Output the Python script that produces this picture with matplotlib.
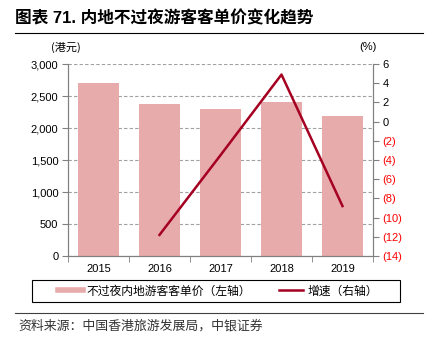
import matplotlib
matplotlib.use("Agg")
import matplotlib.pyplot as plt
from matplotlib.lines import Line2D
from matplotlib.patches import Rectangle
from matplotlib.ticker import FixedLocator, FuncFormatter
import numpy as np

plt.rcParams['font.family'] = ['Liberation Sans', 'Noto Sans CJK SC', 'DejaVu Sans']

years = ['2015', '2016', '2017', '2018', '2019']
spend = [2698, 2372, 2297, 2408, 2193]
growth_years = ['2016', '2017', '2018', '2019']
growth = [-11.8, -3.5, 4.9, -8.8]

title = '图表 71. 内地不过夜游客客单价变化趋势'
bar_label = '不过夜内地游客客单价（左轴）'
line_label = '增速（右轴）'
left_unit = '(港元)'
right_unit = '(%)'
source = '资料来源：中国香港旅游发展局，中银证券'

bar_color = '#E8ABAB'
line_color = '#A50021'
cjk = ['Noto Sans CJK SC', 'DejaVu Sans']

W, H = 427, 345
fig = plt.figure(figsize=(W / 100, H / 100), dpi=100)
ax = fig.add_axes([68 / W, 1 - 256 / H, (373 - 68) / W, (256 - 64) / H])
ax2 = ax.twinx()

x = np.arange(len(years))
ax.bar(x, spend, width=0.66, color=bar_color, zorder=2)
ax.set_xlim(-0.5, len(years) - 0.5)
ax.set_ylim(0, 3000)
ax.set_yticks(np.arange(0, 3001, 500))
ax.yaxis.set_major_formatter(FuncFormatter(lambda v, p: f'{int(v):,}'))
ax.set_xticks(x)
ax.set_xticklabels(years)
ax.xaxis.set_minor_locator(FixedLocator(np.arange(-0.5, len(years), 1.0)))
ax.tick_params(axis='x', which='major', length=0, labelsize=8, pad=6)
ax.tick_params(axis='x', which='minor', length=4, color='#808080', direction='out')
ax.tick_params(axis='y', length=4, color='#808080', labelsize=8, pad=3)
ax.grid(axis='y', linestyle=(0, (3, 2)), color='#A0A0A0', linewidth=0.8, zorder=0)
ax.set_axisbelow(True)

gx = [years.index(y) for y in growth_years]
ax2.plot(gx, growth, color=line_color, linewidth=1.8, zorder=3)
ax2.set_ylim(-14, 6)
ax2.set_yticks(np.arange(-14, 7, 2))
ax2.yaxis.set_major_formatter(FuncFormatter(lambda v, p: f'({int(-v)})' if v < 0 else f'{int(v)}'))
ax2.tick_params(axis='y', length=4, color='#808080', labelsize=8, pad=3)
for t, v in zip(ax2.get_yticklabels(), np.arange(-14, 7, 2)):
    t.set_color('#FF0000' if v < 0 else 'black')

for a in (ax, ax2):
    a.spines['top'].set_visible(False)
    for s in ('left', 'right', 'bottom'):
        a.spines[s].set_color('#808080')
        a.spines[s].set_linewidth(0.8)
ax.set_zorder(ax2.get_zorder() - 1)
ax2.patch.set_visible(False)
ax.patch.set_visible(True)

# texts
fig.text(15 / W, 1 - 18 / H, title, fontsize=12, fontweight='bold', family=['Liberation Sans', 'Noto Sans CJK SC'],
         va='center', ha='left')
fig.add_artist(Line2D([15 / W, 423 / W], [1 - 33 / H, 1 - 33 / H], color='black', linewidth=0.8))
fig.text(66 / W, 1 - 47 / H, left_unit, fontsize=8, family=cjk, va='center', ha='center')
fig.text(368 / W, 1 - 47 / H, right_unit, fontsize=8, va='center', ha='center')

# legend
fig.add_artist(Rectangle((32 / W, 1 - 302 / H), 368 / W, 22 / H, fill=False, edgecolor='black', linewidth=0.8,
                         transform=fig.transFigure))
handles = [Line2D([], [], color=bar_color, linewidth=4),
           Line2D([], [], color=line_color, linewidth=1.8)]
fig.legend(handles, [bar_label, line_label], loc='center', bbox_to_anchor=(218 / W, 1 - 291 / H),
           ncol=2, frameon=False, prop={'family': cjk, 'size': 8.5}, handlelength=2.1, handletextpad=0.35,
           columnspacing=2.3, borderaxespad=0)

fig.add_artist(Line2D([15 / W, 423 / W], [1 - 313 / H, 1 - 313 / H], color='#404040', linewidth=0.8))
fig.text(18 / W, 1 - 326 / H, source, fontsize=9.3, family=cjk, va='center', ha='left', color='#333333')

fig.savefig('out.png', dpi=100)
